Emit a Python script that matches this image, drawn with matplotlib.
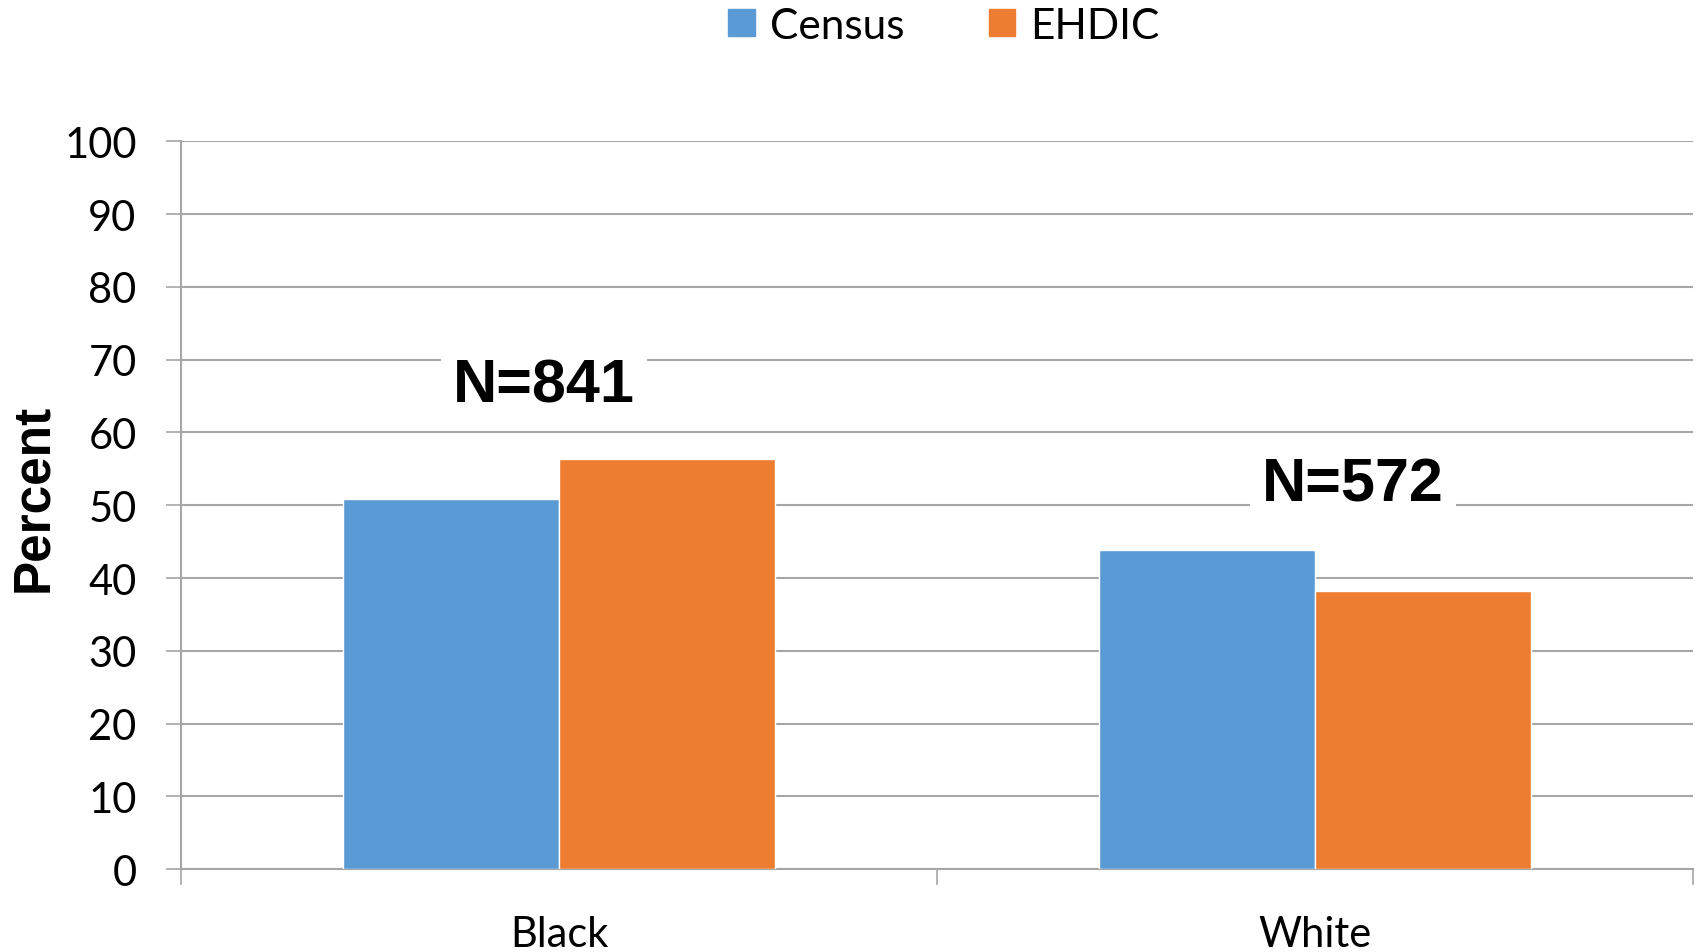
import matplotlib
matplotlib.use("Agg")
import matplotlib.pyplot as plt
from matplotlib.patches import Patch
import numpy as np

# Доли по расе: перепись vs выборка EHDIC
categories = ["Black", "White"]
census = [50.9, 43.9]
ehdic = [56.4, 38.2]
series_names = ["Census", "EHDIC"]
sample_sizes = ["N=841", "N=572"]
yticks = list(range(0, 101, 10))

blue = "#5B9BD5"
orange = "#ED7D31"
grid_gray = "#A6A6A6"

fig = plt.figure(figsize=(16.95, 9.53), dpi=100)
ax = fig.add_axes([0.1068, 0.0868, 0.892, 0.7639])

x = np.arange(len(categories))
w = 1 / 3.5  # ширина столбца при зазоре 150%

ax.bar(x - w / 2, census, w, color=blue, edgecolor="white", linewidth=1, zorder=3)
ax.bar(x + w / 2, ehdic, w, color=orange, edgecolor="white", linewidth=1, zorder=3)

ax.set_xlim(-0.5, 1.5)
ax.set_ylim(0, 100)
ax.set_yticks(yticks)
ax.yaxis.grid(True, color=grid_gray, linewidth=1.5, zorder=0)
ax.set_axisbelow(True)

for side in ["top", "right"]:
    ax.spines[side].set_visible(False)
for side in ["left", "bottom"]:
    ax.spines[side].set_color(grid_gray)
    ax.spines[side].set_linewidth(1.5)

# подписи категорий по центру, засечки на границах категорий
ax.set_xticks(x)
ax.set_xticklabels(categories)
ax.set_xticks([-0.5, 0.5, 1.5], minor=True)
ax.tick_params(axis="x", which="major", length=0, pad=33)
ax.tick_params(axis="x", which="minor", length=11.5, width=1.2, color=grid_gray)
ax.tick_params(axis="y", length=11, width=1.2, color=grid_gray, pad=21)

for lab in ax.get_xticklabels() + ax.get_yticklabels():
    lab.set_fontfamily("Lato")
    lab.set_fontsize(30)

# подписи объёма выборки на белой подложке
n_pos = [(-0.02, 64.2), (1.05, 50.6)]
for (nx, ny), txt in zip(n_pos, sample_sizes):
    ax.text(nx, ny, txt, ha="center", va="baseline", fontsize=44,
            fontweight="bold", family="Liberation Sans", zorder=4,
            bbox=dict(boxstyle="square,pad=0.2", facecolor="white", edgecolor="none"))

fig.text(0.0198, 0.4775, "Percent", rotation=90, ha="center", va="center",
         fontsize=37, fontweight="bold", family="Liberation Sans")

handles = [Patch(color=blue), Patch(color=orange)]
fig.legend(handles, series_names, loc="center", bbox_to_anchor=(0.557, 0.972),
           ncol=2, frameon=False, prop={"family": "Lato", "size": 30.5},
           handlelength=0.62, handleheight=0.62, handletextpad=0.36,
           columnspacing=2.0)

fig.savefig("out.png", dpi=100)
